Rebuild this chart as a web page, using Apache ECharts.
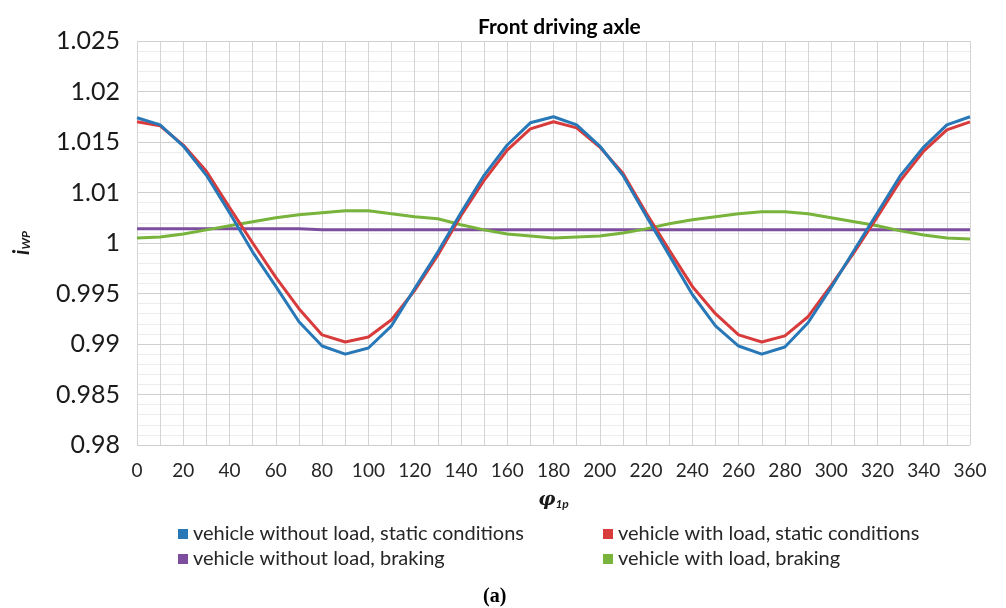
<!DOCTYPE html>
<html>
<head>
<meta charset="utf-8">
<script src="https://cdn.jsdelivr.net/npm/echarts@6/dist/echarts.min.js"></script>
<style>
  html, body { margin: 0; padding: 0; background: #ffffff; }
  #chart { width: 1006px; height: 608px; }
</style>
</head>
<body>
<div id="chart"></div>
<script>
// Crank angle of the front driving axle, degrees
const angles = ['0','10','20','30','40','50','60','70','80','90','100','110','120',
  '130','140','150','160','170','180','190','200','210','220','230','240','250',
  '260','270','280','290','300','310','320','330','340','350','360'];

// Tick labels of the ratio axis, bottom to top
const yTickLabels = ['0.98','0.985','0.99','0.995','1','1.01','1.015','1.02','1.025'];

// Transmission ratio i_WP for each operating case
const noLoadStatic = [1.0124,1.0117,1.0096,1.0067,1.0030,0.9991,0.9957,0.9922,0.9898,0.9890,
  0.9896,0.9918,0.9955,0.9991,1.0030,1.0067,1.0097,1.0119,1.0125,1.0117,1.0096,1.0067,1.0027,
  0.9988,0.9949,0.9918,0.9898,0.9890,0.9897,0.9921,0.9956,0.9993,1.0030,1.0067,1.0095,1.0117,1.0125];

const loadStatic = [1.0120,1.0116,1.0097,1.0071,1.0035,1.0000,0.9966,0.9935,0.9909,0.9902,
  0.9907,0.9924,0.9953,0.9988,1.0027,1.0062,1.0092,1.0113,1.0120,1.0114,1.0095,1.0069,1.0030,
  0.9993,0.9957,0.9930,0.9909,0.9902,0.9908,0.9927,0.9958,0.9991,1.0026,1.0062,1.0091,1.0112,1.0120];

const noLoadBraking = [1.0014,1.0014,1.0014,1.0014,1.0014,1.0014,1.0014,1.0014,1.0013,1.0013,
  1.0013,1.0013,1.0013,1.0013,1.0013,1.0013,1.0013,1.0013,1.0013,1.0013,1.0013,1.0013,1.0013,
  1.0013,1.0013,1.0013,1.0013,1.0013,1.0013,1.0013,1.0013,1.0013,1.0013,1.0013,1.0013,1.0013,1.0013];

const loadBraking = [1.0005,1.0006,1.0009,1.0013,1.0017,1.0021,1.0025,1.0028,1.0030,1.0032,
  1.0032,1.0029,1.0026,1.0024,1.0018,1.0013,1.0009,1.0007,1.0005,1.0006,1.0007,1.0010,1.0014,
  1.0019,1.0023,1.0026,1.0029,1.0031,1.0031,1.0029,1.0025,1.0021,1.0017,1.0012,1.0008,1.0005,1.0004];

const seriesNames = [
  'vehicle without load, static conditions',
  'vehicle with load, static conditions',
  'vehicle without load, braking',
  'vehicle with load, braking'
];
const seriesColors = ['#2878b8', '#d83b3b', '#7d4e9e', '#78b43c'];
const seriesData = [noLoadStatic, loadStatic, noLoadBraking, loadBraking];

const FONT = 'Lato, "Open Sans", sans-serif';

const chart = echarts.init(document.getElementById('chart'), null, { renderer: 'canvas' });

const legendText = { fontFamily: FONT, fontSize: 20, color: '#262626', lineHeight: 19 };

function legendColumn(names, left) {
  return {
    data: names,
    orient: 'vertical',
    left: left,
    top: 519,
    icon: 'rect',
    itemWidth: 10,
    itemHeight: 10,
    itemGap: 5,
    textStyle: legendText
  };
}

chart.setOption({
  backgroundColor: '#ffffff',
  animation: false,
  title: {
    text: 'Front driving axle',
    left: 473,
    top: 12,
    textStyle: { fontFamily: FONT, fontWeight: 'bold', fontSize: 21, color: '#000' }
  },
  legend: [
    legendColumn([seriesNames[0], seriesNames[2]], 173),
    legendColumn([seriesNames[1], seriesNames[3]], 598)
  ],
  grid: { left: 137, right: 36, top: 41, bottom: 163, containLabel: false },
  xAxis: {
    type: 'category',
    data: angles,
    boundaryGap: false,
    name: '{p|φ}{s|1p}',
    nameLocation: 'middle',
    nameGap: 45,
    nameTextStyle: {
      rich: {
        p: { fontFamily: 'DejaVu Serif', fontStyle: 'italic', fontWeight: 'bold', fontSize: 19, color: '#1a1a1a' },
        s: { fontFamily: FONT, fontStyle: 'italic', fontWeight: 'bold', fontSize: 12, color: '#1a1a1a', padding: [8, 0, 0, 0] }
      }
    },
    axisLine: { show: false },
    axisTick: { show: false },
    axisLabel: {
      interval: 1,
      margin: 16,
      fontFamily: FONT,
      fontSize: 19,
      color: '#262626'
    },
    splitLine: { show: true, interval: 0, lineStyle: { color: '#d4d4d4', width: 1 } }
  },
  yAxis: {
    type: 'value',
    min: 0.98,
    max: 1.02,
    interval: 0.005,
    name: '{i|i}{s|WP}',
    nameLocation: 'middle',
    nameRotate: 90,
    nameGap: 104,
    nameTextStyle: {
      rich: {
        i: { fontFamily: FONT, fontStyle: 'italic', fontWeight: 'bold', fontSize: 22, color: '#1a1a1a' },
        s: { fontFamily: FONT, fontStyle: 'italic', fontWeight: 'bold', fontSize: 12, color: '#1a1a1a', padding: [9, 0, 0, 0] }
      }
    },
    axisLine: { show: false },
    axisTick: { show: false },
    axisLabel: {
      margin: 17,
      fontFamily: FONT,
      fontSize: 25,
      color: '#1a1a1a',
      formatter: function (v) {
        return yTickLabels[Math.round((v - 0.98) / 0.005)];
      }
    },
    splitLine: { show: true, lineStyle: { color: '#cfcfcf', width: 1 } },
    minorTick: { show: false, splitNumber: 5 },
    minorSplitLine: { show: true, lineStyle: { color: '#ececec', width: 1 } }
  },
  series: seriesNames.map(function (name, i) {
    return {
      name: name,
      type: 'line',
      data: seriesData[i],
      showSymbol: false,
      smooth: false,
      color: seriesColors[i],
      lineStyle: { width: 3, color: seriesColors[i] },
      z: i === 0 ? 4 : (i === 1 ? 3 : 2)
    };
  }),
  graphic: [
    {
      type: 'text',
      left: 483,
      top: 587,
      style: {
        text: '(a)',
        fontFamily: '"Liberation Serif", serif',
        fontWeight: 'bold',
        fontSize: 20,
        fill: '#000'
      }
    }
  ]
});
</script>
</body>
</html>
